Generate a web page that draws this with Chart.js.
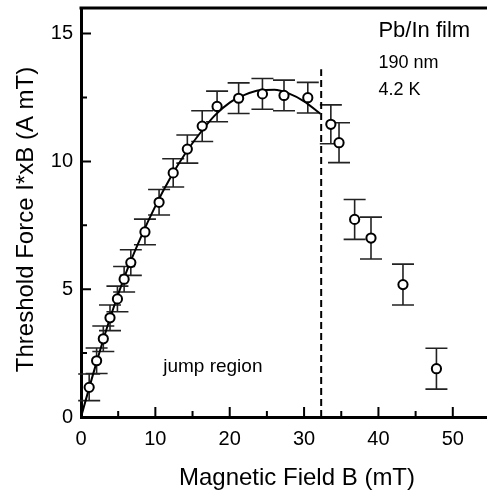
<!DOCTYPE html>
<html>
<head>
<meta charset="utf-8">
<script src="https://cdn.jsdelivr.net/npm/chart.js@4.4.0/dist/chart.umd.min.js"></script>
<style>
    html, body { margin: 0; padding: 0; background: #fff; }
</style>
</head>
<body>
<canvas id="forceChart" width="487" height="493"></canvas>
<script>
const fieldB = [1.1, 2.1, 3.0, 3.9, 4.9, 5.8, 6.7, 8.6, 10.5, 12.4, 14.3, 16.3, 18.3, 21.2, 24.4, 27.3, 30.5, 33.6, 34.7, 36.8, 39.0, 43.3, 47.8];
const force = [1.16, 2.2, 3.06, 3.88, 4.62, 5.39, 6.04, 7.24, 8.4, 9.55, 10.48, 11.38, 12.15, 12.47, 12.64, 12.58, 12.49, 11.45, 10.73, 7.73, 7.0, 5.18, 1.89];
const forceErr = [0.52, 0.5, 0.5, 0.5, 0.5, 0.5, 0.5, 0.5, 0.5, 0.55, 0.55, 0.6, 0.6, 0.6, 0.6, 0.6, 0.6, 0.76, 0.78, 0.78, 0.82, 0.8, 0.8];

// fitted curve
const fitB = [0, 2, 4, 6, 8, 10, 12, 14, 16, 18, 20, 22, 24, 26, 28, 30, 32.2];
const fitF = [0, 2.05, 3.95, 5.6, 7.0, 8.25, 9.35, 10.3, 11.1, 11.8, 12.3, 12.6, 12.78, 12.8, 12.65, 12.35, 11.86];

// jump boundary
const jumpB = [32.3, 32.3];
const jumpF = [0, 13.6];

const xTicks = [0, 10, 20, 30, 40, 50];
const xMinor = [5, 15, 25, 35, 45];
const yTicks = [0, 5, 10, 15];
const yMinor = [2.5, 7.5, 12.5];

const FONT = "'Liberation Sans', Arial, sans-serif";

const decorPlugin = {
    id: 'decor',
    beforeDatasetsDraw(chart) {
        const ctx = chart.ctx;
        const xs = chart.scales.x;
        const ys = chart.scales.y;
        ctx.save();
        ctx.strokeStyle = '#222';
        ctx.lineWidth = 1.6;
        fieldB.forEach((b, i) => {
            const px = xs.getPixelForValue(b);
            const top = ys.getPixelForValue(force[i] + forceErr[i]);
            const bot = ys.getPixelForValue(force[i] - forceErr[i]);
            ctx.beginPath();
            ctx.moveTo(px, top); ctx.lineTo(px, bot);
            ctx.moveTo(px - 11, top); ctx.lineTo(px + 11, top);
            ctx.moveTo(px - 11, bot); ctx.lineTo(px + 11, bot);
            ctx.stroke();
        });
        ctx.restore();
    },
    afterDraw(chart) {
        const ctx = chart.ctx;
        const xs = chart.scales.x;
        const ys = chart.scales.y;
        const area = chart.chartArea;
        ctx.save();
        ctx.strokeStyle = '#000';
        // top frame
        ctx.lineWidth = 3;
        ctx.beginPath();
        ctx.moveTo(area.left - 1.5, area.top);
        ctx.lineTo(area.right, area.top);
        ctx.stroke();
        // inward ticks
        ctx.lineWidth = 2;
        ctx.beginPath();
        xTicks.forEach(v => { const p = xs.getPixelForValue(v); ctx.moveTo(p, area.bottom); ctx.lineTo(p, area.bottom - 10); });
        xMinor.forEach(v => { const p = xs.getPixelForValue(v); ctx.moveTo(p, area.bottom); ctx.lineTo(p, area.bottom - 6); });
        yTicks.forEach(v => { const p = ys.getPixelForValue(v); ctx.moveTo(area.left, p); ctx.lineTo(area.left + 10, p); });
        yMinor.forEach(v => { const p = ys.getPixelForValue(v); ctx.moveTo(area.left, p); ctx.lineTo(area.left + 6, p); });
        ctx.stroke();

        // annotations
        ctx.fillStyle = '#000';
        ctx.textBaseline = 'alphabetic';
        ctx.textAlign = 'left';
        ctx.font = '22px ' + FONT;
        ctx.fillText('Pb/In film', xs.getPixelForValue(40), ys.getPixelForValue(14.85));
        ctx.font = '18px ' + FONT;
        ctx.fillText('190 nm', xs.getPixelForValue(40), ys.getPixelForValue(13.64));
        ctx.fillText('4.2 K', xs.getPixelForValue(40), ys.getPixelForValue(12.58));
        ctx.font = '19px ' + FONT;
        ctx.fillText('jump region', xs.getPixelForValue(11.05), ys.getPixelForValue(1.77));

        // axis titles
        ctx.font = '24px ' + FONT;
        ctx.textAlign = 'center';
        ctx.fillText('Magnetic Field B (mT)', 297, 485);
        ctx.translate(33, (area.top + area.bottom) / 2 + 7);
        ctx.rotate(-Math.PI / 2);
        ctx.fillText('Threshold Force I*xB (A mT)', 0, 0);
        ctx.restore();
    }
};

const ctx = document.getElementById('forceChart').getContext('2d');
const chart = new Chart(ctx, {
    type: 'line',
    data: {
        datasets: [
            {
                label: 'data',
                data: fieldB.map((b, i) => ({ x: b, y: force[i] })),
                showLine: false,
                pointRadius: 4.6,
                pointBorderWidth: 2,
                pointBackgroundColor: '#fff',
                pointBorderColor: '#000'
            },
            {
                label: 'fit',
                data: fitB.map((b, i) => ({ x: b, y: fitF[i] })),
                borderColor: '#000',
                borderWidth: 2,
                pointRadius: 0,
                cubicInterpolationMode: 'monotone',
                fill: false
            },
            {
                label: 'jump',
                data: jumpB.map((b, i) => ({ x: b, y: jumpF[i] })),
                borderColor: '#000',
                borderWidth: 2,
                borderDash: [7, 4],
                pointRadius: 0,
                fill: false
            }
        ]
    },
    options: {
        responsive: false,
        animation: false,
        events: [],
        layout: { autoPadding: false, padding: { top: 8, right: 0, left: 0, bottom: 0 } },
        plugins: {
            legend: { display: false },
            tooltip: { enabled: false }
        },
        scales: {
            x: {
                type: 'linear',
                min: 0,
                max: 54.6,
                afterBuildTicks: s => { s.ticks = xTicks.map(v => ({ value: v })); },
                afterFit: s => { s.height = 76; s.paddingLeft = 0; s.paddingRight = 0; },
                grid: { display: false, drawTicks: false },
                border: { display: true, color: '#000', width: 3 },
                ticks: {
                    color: '#000',
                    padding: 10,
                    maxRotation: 0,
                    font: { family: FONT, size: 20 }
                }
            },
            y: {
                type: 'linear',
                min: 0,
                max: 16,
                afterBuildTicks: s => { s.ticks = yTicks.map(v => ({ value: v })); },
                afterFit: s => { s.width = 81; s.paddingTop = 0; s.paddingBottom = 0; },
                grid: { display: false, drawTicks: false },
                border: { display: true, color: '#000', width: 3 },
                ticks: {
                    color: '#000',
                    padding: 8,
                    font: { family: FONT, size: 20 }
                }
            }
        }
    },
    plugins: [decorPlugin]
});
</script>
</body>
</html>
